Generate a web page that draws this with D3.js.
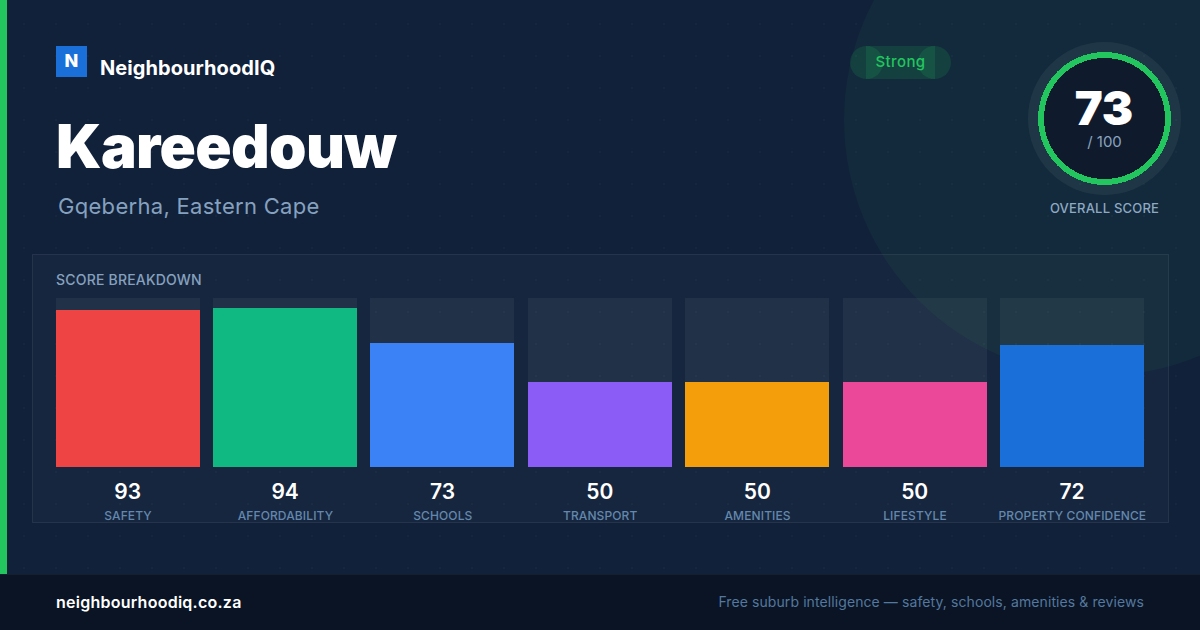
<!DOCTYPE html>
<html>
<head>
<meta charset="utf-8">
<script src="https://cdn.jsdelivr.net/npm/d3@7"></script>
<style>
  html, body { margin: 0; padding: 0; background: #11213a; }
  svg { display: block; font-family: Inter, sans-serif; }
</style>
</head>
<body>
<svg id="chart" width="1200" height="630"></svg>
<script>
// Data.
const categories = ['SAFETY', 'AFFORDABILITY', 'SCHOOLS', 'TRANSPORT', 'AMENITIES', 'LIFESTYLE', 'PROPERTY CONFIDENCE'];
const scores     = [93, 94, 73, 50, 50, 50, 72];
const barColors  = ['#ef4444', '#10b981', '#3b82f6', '#8b5cf6', '#f59e0b', '#ec4899', '#1a6fd8'];
const overall    = 73;

const svg = d3.select('#chart');

// Little helper, every label on the card goes through here.
function label(text, x, y, size, weight, fill, anchor = 'start', spacing = 0) {
  return svg.append('text')
    .attr('x', x).attr('y', y)
    .attr('font-size', size)
    .attr('font-weight', weight)
    .attr('fill', fill)
    .attr('text-anchor', anchor)
    .attr('letter-spacing', spacing)
    .text(text);
}

// Background, dot grid and the big glow circle.
svg.append('rect').attr('width', 1200).attr('height', 630).attr('fill', '#11213a');

const dots = svg.append('defs').append('pattern')
  .attr('id', 'dots').attr('patternUnits', 'userSpaceOnUse')
  .attr('width', 32).attr('height', 32);
dots.append('circle').attr('cx', 24).attr('cy', 24).attr('r', 1).attr('fill', '#fff').attr('opacity', 0.035);
svg.append('rect').attr('width', 1200).attr('height', 630).attr('fill', 'url(#dots)');

svg.append('circle').attr('cx', 1100).attr('cy', 120).attr('r', 256)
  .attr('fill', '#22c55e').attr('opacity', 0.055);

svg.append('rect').attr('width', 7).attr('height', 574).attr('fill', '#22c55e');

// Header.
svg.append('rect').attr('x', 56).attr('y', 46).attr('width', 31).attr('height', 31).attr('fill', '#1a6fd8');
label('N', 71.5, 67, 18, 800, '#fff', 'middle');
label('NeighbourhoodIQ', 100, 75, 20, 700, '#fff', 'start', 0.07);
label('Kareedouw', 56, 168, 60, 900, '#fff', 'start', -0.65);
label('Gqeberha, Eastern Cape', 58, 214, 22, 400, '#86a1bf', 'start', 0.3);

// Status pill, ends overlap the middle like in the original.
const pill = svg.append('g').attr('fill', '#22c55e').attr('fill-opacity', 0.15);
pill.append('circle').attr('cx', 866.5).attr('cy', 62.5).attr('r', 16.5);
pill.append('circle').attr('cx', 934.5).attr('cy', 62.5).attr('r', 16.5);
pill.append('rect').attr('x', 866).attr('y', 46).attr('width', 69).attr('height', 33);
label('Strong', 900.5, 67, 15, 500, '#22c55e', 'middle', 0.4);

// Overall score ring.
const ringX = 1104.5, ringY = 118.5;
const ring = d3.arc().startAngle(0).endAngle(2 * Math.PI);
svg.append('circle').attr('cx', ringX).attr('cy', ringY).attr('r', 76.5).attr('fill', '#fff').attr('opacity', 0.06);
svg.append('circle').attr('cx', ringX).attr('cy', ringY).attr('r', 66).attr('fill', '#0f1b2d');
svg.append('path').attr('transform', `translate(${ringX},${ringY})`)
  .attr('d', ring({ innerRadius: 60.5, outerRadius: 66.5 }))
  .attr('fill', '#22c55e')
  .attr('shape-rendering', 'crispEdges');
label(overall, ringX - 0.5, 125, 47, 900, '#fff', 'middle');
label('/ 100', ringX, 147, 15, 400, '#8aa3bf', 'middle');
label('OVERALL SCORE', ringX, 213, 13, 500, '#8fa8c3', 'middle', 0.2);

// Breakdown panel.
svg.append('rect').attr('x', 32.5).attr('y', 254.5).attr('width', 1136).attr('height', 268)
  .attr('fill', '#fff').attr('fill-opacity', 0.025)
  .attr('stroke', '#fff').attr('stroke-opacity', 0.08);
label('SCORE BREAKDOWN', 56, 285, 14, 500, '#86a1bf', 'start', 0.2);

const x = d3.scaleBand().domain(categories).range([56, 1144.4]).paddingInner(13.4 / 157.4);
const y = d3.scaleLinear().domain([0, 100]).range([467, 298.3]);

// The original snaps its bars down to whole pixels.
const barX = d => Math.floor(x(d.name));
const barY = v => Math.floor(y(v));

const rows = categories.map((name, i) => ({ name, score: scores[i], color: barColors[i] }));

svg.append('g').selectAll('rect').data(rows).join('rect')
  .attr('x', barX).attr('y', barY(100))
  .attr('width', x.bandwidth()).attr('height', y(0) - barY(100))
  .attr('fill', '#fff').attr('fill-opacity', 0.05);

svg.append('g').selectAll('rect').data(rows).join('rect')
  .attr('x', barX).attr('y', d => barY(d.score))
  .attr('width', x.bandwidth()).attr('height', d => y(0) - barY(d.score))
  .attr('fill', d => d.color);

rows.forEach(d => {
  const cx = x(d.name) + x.bandwidth() / 2;
  label(d.score, cx - 0.3, 499, 21, 600, '#fff', 'middle');
  label(d.name, cx, 520, 12, 500, '#6488ad', 'middle', 0.12);
});

// Footer.
svg.append('rect').attr('y', 574).attr('width', 1200).attr('height', 56).attr('fill', '#0a1424');
svg.append('rect').attr('y', 574).attr('width', 1200).attr('height', 1).attr('fill', '#fff').attr('opacity', 0.05);
label('neighbourhoodiq.co.za', 56, 608, 16, 600, '#fff', 'start', 0.25);
label('Free suburb intelligence — safety, schools, amenities & reviews', 1144, 607, 14, 400, '#54789f', 'end', 0.09);
</script>
</body>
</html>
